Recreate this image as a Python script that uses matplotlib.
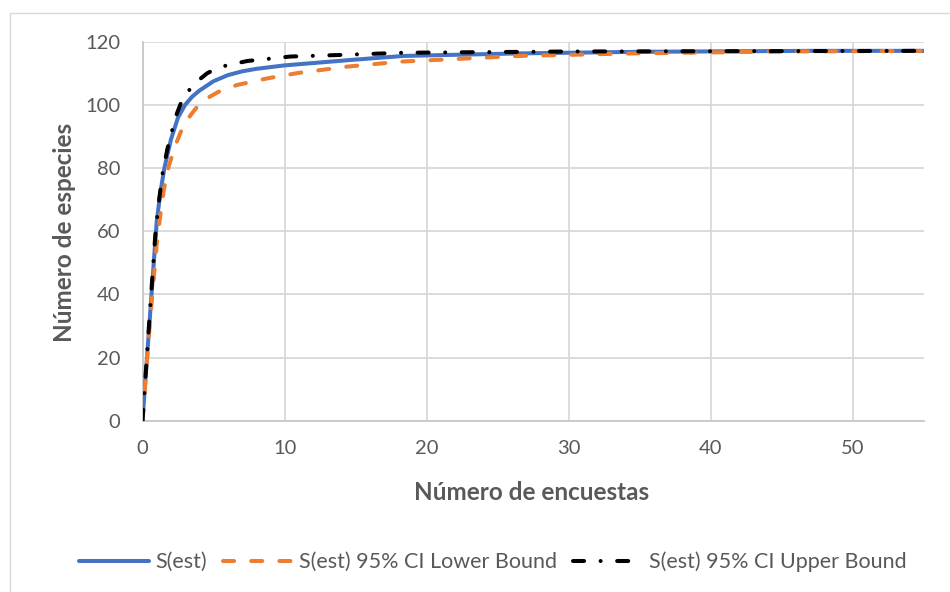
import matplotlib
matplotlib.use("Agg")
import matplotlib.pyplot as plt
from matplotlib.patches import Rectangle

# Data
x_est = [0, 1, 1.25, 1.54, 2, 2.5, 3, 3.5, 4, 5, 6, 7, 8, 10, 14.6, 18.4, 26.6, 35, 47, 55]
y_est = [0, 63, 72, 80, 89, 96, 100, 102.6, 104.5, 107.5, 109.4, 110.6, 111.4, 112.5, 114.2, 115.5, 116.3, 116.8, 117.1, 117.1]

x_low = [0, 0.5, 1.0, 1.27, 1.5, 1.85, 2.3, 2.7, 3.1, 3.6, 4.0, 4.55, 5.5, 6.67, 8.8, 11.1, 14.4, 18.2, 26.6, 34.6, 45, 55]
y_low = [0, 30, 56, 65.6, 73.1, 80.6, 87, 91.5, 95, 98, 100.2, 102.1, 104.5, 106.3, 108.4, 110.2, 112.1, 113.7, 115.5, 116.3, 116.9, 117.1]

x_up = [0, 0.5, 0.92, 1.2, 1.42, 1.75, 2.09, 2.4, 2.7, 3.0, 3.4, 4.0, 4.55, 5.2, 6, 7.4, 10.4, 13.9, 18.3, 30, 55]
y_up = [0, 33, 60, 71, 78.5, 86, 92, 97, 100.5, 103, 105.3, 108, 110, 111.5, 112.6, 113.9, 115.3, 115.8, 116.5, 116.9, 117.1]

labels = ["S(est)", "S(est) 95% CI Lower Bound", "S(est) 95% CI Upper Bound"]
x_ticks = [0, 10, 20, 30, 40, 50]
y_ticks = [0, 20, 40, 60, 80, 100, 120]
x_title = "Número de encuestas"
y_title = "Número de especies"

plt.rcParams['font.family'] = ['Lato', 'DejaVu Sans']

W, H = 950, 592
fig = plt.figure(figsize=(W / 100, H / 100), dpi=100)
fig.patch.set_facecolor("white")
fig.add_artist(Rectangle((10 / W, 0 - 10 / H), 1.1, (H - 13 + 10) / H, transform=fig.transFigure,
                         fill=False, edgecolor="#D9D9D9", linewidth=1.0))

left, right, top, bottom = 142.5, 923.8, 41.7, 420.7
ax = fig.add_axes([left / W, 1 - bottom / H, (right - left) / W, (bottom - top) / H])

lw = 2.9
ax.plot(x_est, y_est, color="#4472C4", lw=lw, label=labels[0], solid_capstyle="round",
        solid_joinstyle="round", zorder=3)
ax.plot(x_low, y_low, color="#ED7D31", lw=lw, label=labels[1], linestyle=(0, (2.75, 4.25)),
        dash_capstyle="round", dash_joinstyle="round", zorder=4)
ax.plot(x_up, y_up, color="black", lw=lw, label=labels[2], linestyle=(0, (2.75, 4.1, 0.01, 4.1)),
        dash_capstyle="round", dash_joinstyle="round", zorder=5)

ax.set_xlim(0, 55)
ax.set_ylim(0, 120)
ax.set_xticks(x_ticks)
ax.set_yticks(y_ticks)
ax.grid(True, color="#D9D9D9", lw=1.3, zorder=0)
ax.set_axisbelow(True)
for s in ["top", "right"]:
    ax.spines[s].set_visible(False)
for s in ["left", "bottom"]:
    ax.spines[s].set_color("#C8C8C8")
    ax.spines[s].set_linewidth(1.3)
ax.tick_params(length=0, labelsize=14.5, labelcolor="#595959")
ax.tick_params(axis="y", pad=16)
ax.tick_params(axis="x", pad=14)

ax.set_xlabel(x_title, fontsize=17.5, fontweight="bold", color="#595959")
ax.set_ylabel(y_title, fontsize=17.5, fontweight="bold", color="#595959")
ax.xaxis.set_label_coords((532 - left) / (right - left), (bottom - 492) / (bottom - top))
ax.xaxis.label.set_va("center")
ax.yaxis.set_label_coords((65 - left) / (right - left), (bottom - 232) / (bottom - top))
ax.yaxis.label.set_va("center")

leg = fig.legend(loc="center", bbox_to_anchor=(493 / W, 1 - 562 / H), ncol=3, frameon=False,
                 fontsize=15.5, handlelength=3.25, handletextpad=0.28, columnspacing=0.75)
for t in leg.get_texts():
    t.set_color("#595959")

fig.savefig("out.png", dpi=100, facecolor="white")
